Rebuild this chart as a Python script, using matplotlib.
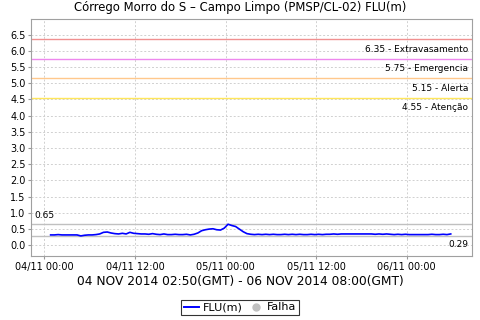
from datetime import datetime, timedelta
import matplotlib
matplotlib.use('Agg')
import matplotlib.pyplot as plt
import matplotlib.dates as mdates
from matplotlib.lines import Line2D

# readings every 30 min (local time, GMT-2) starting 04/11 00:50
start = datetime(2014, 11, 4, 0, 50)
flu = [0.32, 0.32, 0.33, 0.32, 0.32, 0.32, 0.32, 0.32, 0.29, 0.31,
       0.32, 0.32, 0.33, 0.35, 0.40, 0.41, 0.38, 0.36, 0.35, 0.37,
       0.35, 0.40, 0.37, 0.36, 0.35, 0.35, 0.34, 0.36, 0.34, 0.33,
       0.35, 0.33, 0.33, 0.34, 0.33, 0.33, 0.34, 0.32, 0.34, 0.38,
       0.45, 0.48, 0.50, 0.51, 0.48, 0.47, 0.53, 0.65, 0.61, 0.58,
       0.50, 0.42, 0.36, 0.34, 0.33, 0.34, 0.33, 0.34, 0.33, 0.34,
       0.33, 0.33, 0.34, 0.33, 0.34, 0.33, 0.34, 0.33, 0.33, 0.34,
       0.33, 0.34, 0.33, 0.34, 0.34, 0.35, 0.34, 0.35, 0.35, 0.35,
       0.35, 0.35, 0.35, 0.35, 0.35, 0.35, 0.34, 0.35, 0.34, 0.35,
       0.34, 0.33, 0.34, 0.33, 0.34, 0.33, 0.33, 0.33, 0.33, 0.33,
       0.33, 0.34, 0.33, 0.33, 0.34, 0.33, 0.35]
times = [start + timedelta(minutes=30 * i) for i in range(len(flu))]

limits = [6.35, 5.75, 5.15, 4.55]
limit_names = ['Extravasamento', 'Emergencia', 'Alerta', 'Atenção']
limit_colors = ['#F09090', '#EE88EE', '#FFC88C', '#FFE65A']
max_val, min_val = 0.65, 0.29

fig = plt.figure(figsize=(4.8, 3.2), dpi=100)
ax = fig.add_axes([31 / 480, 64 / 320, 441 / 480, 237 / 320])

ax.plot(times, flu, color='#0000FF', linewidth=1.2, zorder=5)

for v, name, c in zip(limits, limit_names, limit_colors):
    ax.axhline(v, color=c, linewidth=1)
    ax.annotate('%.2f - %s' % (v, name), xy=(0.992, v), xycoords=('axes fraction', 'data'),
                xytext=(0, -4), textcoords='offset points', ha='right', va='top', fontsize=6.5)

ax.axhline(max_val, color='#C0C0C0', linewidth=1)
ax.axhline(min_val, color='#C0C0C0', linewidth=1)
ax.annotate('%.2f' % max_val, xy=(0.007, max_val), xycoords=('axes fraction', 'data'),
            xytext=(0, 3), textcoords='offset points', ha='left', va='bottom', fontsize=6.5)
ax.annotate('%.2f' % min_val, xy=(0.992, min_val), xycoords=('axes fraction', 'data'),
            xytext=(0, -3), textcoords='offset points', ha='right', va='top', fontsize=6.5)

ax.set_ylim(-0.33, 6.98)
ax.set_yticks([i * 0.5 for i in range(14)])
ax.set_xlim(datetime(2014, 11, 3, 22, 14), datetime(2014, 11, 6, 8, 39))
ax.xaxis.set_major_locator(mdates.HourLocator(byhour=[0, 12]))
ax.xaxis.set_major_formatter(mdates.DateFormatter('%d/%m %H:%M'))
ax.tick_params(labelsize=7, length=2, color='#999999', pad=2)
ax.grid(True, color='#D0D0D0', linestyle=(0, (2, 2)), linewidth=0.7)
for s in ['left', 'bottom', 'right', 'top']:
    ax.spines[s].set_color('#A0A0A0')

fig.text(0.5, 1 - 8 / 320, 'Córrego Morro do S – Campo Limpo (PMSP/CL-02) FLU(m)',
         ha='center', va='center', fontsize=8.4)
fig.text(0.5, 1 - 282 / 320, '04 NOV 2014 02:50(GMT) - 06 NOV 2014 08:00(GMT)',
         ha='center', va='center', fontsize=8.8)

handles = [Line2D([], [], color='#0000FF', linewidth=1.4),
           Line2D([], [], color='#C0C0C0', marker='o', linestyle='none', markersize=5)]
leg = fig.legend(handles, ['FLU(m)', 'Falha'], loc='center', bbox_to_anchor=(0.5, 1 - 307.5 / 320),
                 ncol=2, fontsize=8, fancybox=False, edgecolor='black', handlelength=1.4,
                 handletextpad=0.3, columnspacing=0.5, borderpad=0.25, borderaxespad=0)
leg.get_frame().set_linewidth(0.8)

fig.savefig('out.png', dpi=100)
